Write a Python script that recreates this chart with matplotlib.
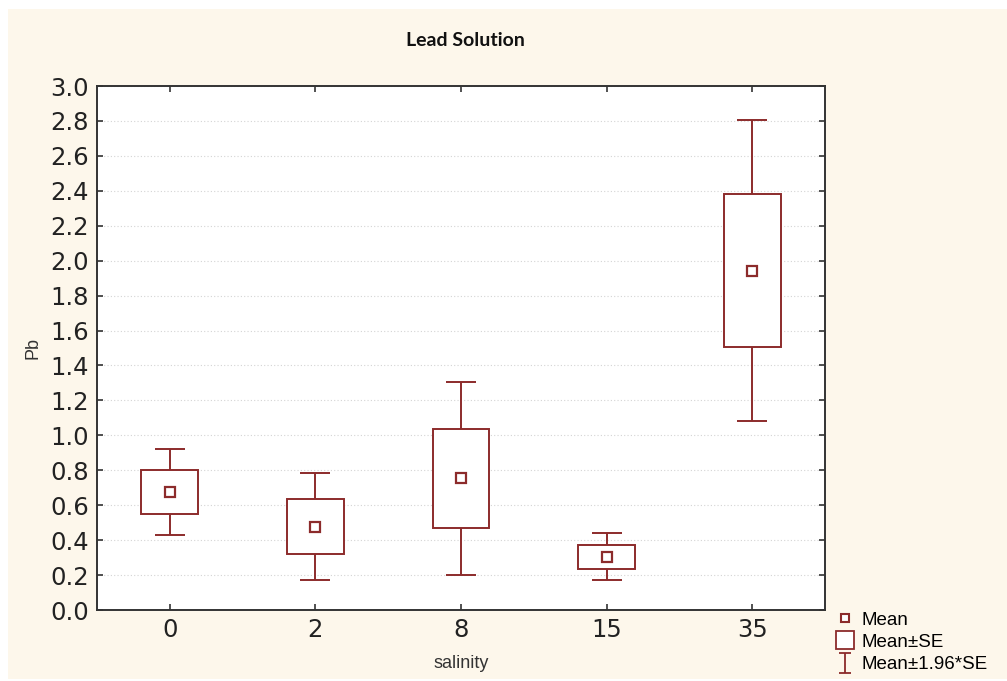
import matplotlib
matplotlib.use("Agg")
from matplotlib import pyplot as plt
from matplotlib.lines import Line2D
from matplotlib.patches import Rectangle
from matplotlib.path import Path
import numpy as np

plt.rcParams["font.family"] = ["Liberation Sans", "DejaVu Sans"]

# data
salinity = ["0", "2", "8", "15", "35"]
pb_mean = [0.675, 0.478, 0.754, 0.305, 1.943]
pb_se = [0.125, 0.155, 0.282, 0.069, 0.440]

red = "#8c2b2b"
cream = "#fdf7eb"

fig = plt.figure(figsize=(10.07, 6.81), dpi=100, facecolor="white")
# cream panel behind everything
fig.patches.append(Rectangle((8 / 1007, 2 / 681), 1 - 8 / 1007, 1 - 11 / 681,
                             transform=fig.transFigure, facecolor=cream,
                             edgecolor="none", zorder=-10))

ax = fig.add_axes([97 / 1007, 1 - 610 / 681, (825 - 97) / 1007, (610 - 86) / 681])
ax.set_facecolor("white")

x = np.arange(len(salinity))
mean = np.array(pb_mean)
se = np.array(pb_se)

# whiskers: mean +/- 1.96*SE
ax.errorbar(x, mean, yerr=1.96 * se, fmt="none", ecolor=red, elinewidth=1.4,
            capsize=10.5, capthick=1.4, zorder=2)
# boxes: mean +/- SE
ax.bar(x, 2 * se, bottom=mean - se, width=0.39, facecolor="white",
       edgecolor=red, linewidth=1.4, zorder=3)
# mean markers
ax.plot(x, mean, "s", ms=7, mfc="white", mec=red, mew=1.6, zorder=4)

ax.set_xlim(-0.5, 4.5)
ax.set_ylim(0, 3.0)
ax.set_yticks(np.arange(0, 3.01, 0.2))
ax.set_yticklabels([f"{v:.1f}" for v in np.arange(0, 3.01, 0.2)])
ax.set_xticks(x)
ax.set_xticklabels(salinity)
ax.tick_params(direction="in", top=True, right=True, length=4, width=1.2,
               color="#333333", labelsize=17.5, pad=6, labelcolor="#222222",
               labelfontfamily="DejaVu Sans")
ax.yaxis.grid(True, linestyle=(0, (1, 2)), color="#d4d4d4", linewidth=0.8)
ax.set_axisbelow(True)
for s in ax.spines.values():
    s.set_color("#333333")
    s.set_linewidth(1.4)

ax.set_xlabel("salinity", fontsize=13, color="#333333", labelpad=9)
ax.set_ylabel("Pb", fontsize=13, color="#333333", labelpad=6)

fig.text(0.462, 1 - 41 / 681, "Lead Solution", ha="center", va="center",
         fontsize=14, fontweight="bold", family="Lato", color="#111111")

# legend handles
whisker_marker = Path([(0, -1), (0, 1), (-0.6, 1), (0.6, 1), (-0.6, -1), (0.6, -1)],
                      [Path.MOVETO, Path.LINETO, Path.MOVETO, Path.LINETO,
                       Path.MOVETO, Path.LINETO])
handles = [
    Line2D([], [], ls="none", marker="s", ms=6, mfc="white", mec=red, mew=1.5),
    Line2D([], [], ls="none", marker="s", ms=13, mfc="white", mec=red, mew=1.3),
    Line2D([], [], ls="none", marker=whisker_marker, ms=14, mec=red, mew=1.3),
]
fig.legend(handles, ["Mean", "Mean\u00b1SE", "Mean\u00b11.96*SE"],
           loc="upper left", bbox_to_anchor=(828 / 1007, 1 - 604 / 681),
           frameon=False, fontsize=13.5, handlelength=1.0, handletextpad=0.4,
           labelspacing=0.28, borderaxespad=0)

fig.savefig("out.png", dpi=100, facecolor="white")
